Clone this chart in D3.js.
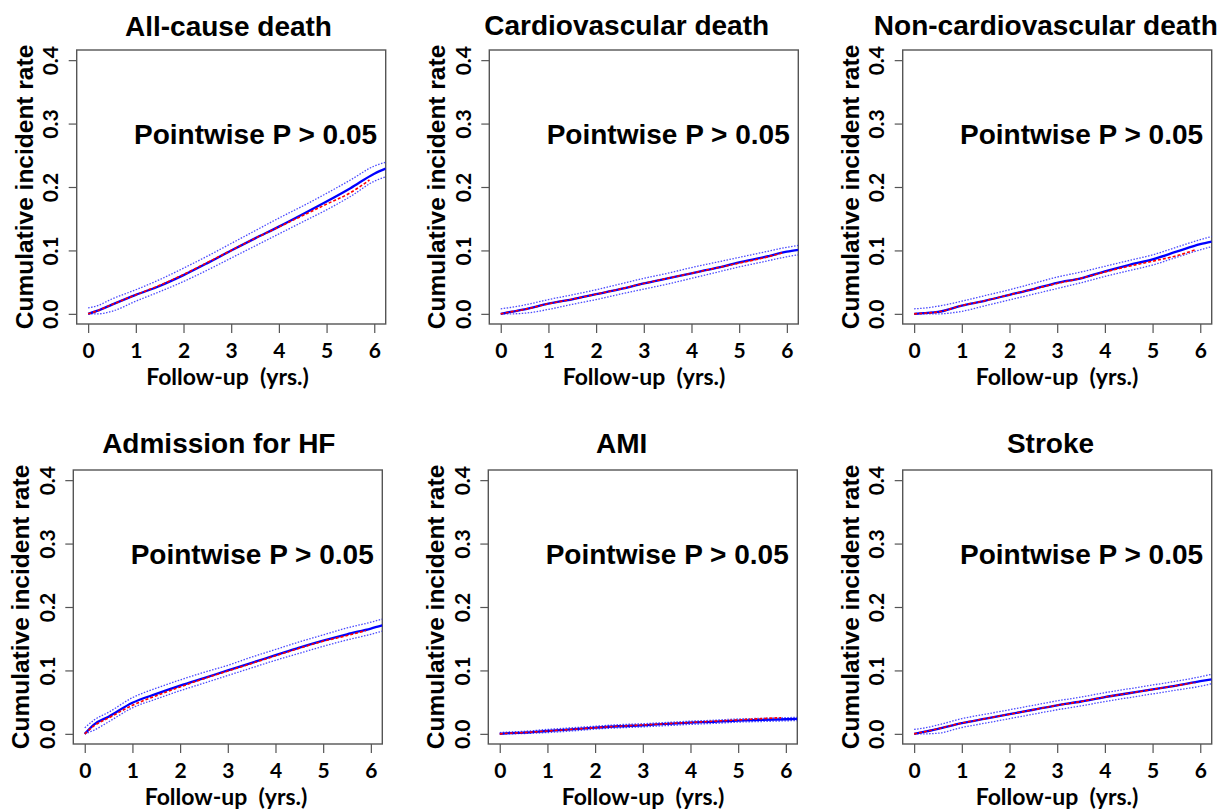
<!DOCTYPE html>
<html lang="en">
<head>
<meta charset="UTF-8">
<title>Cumulative incident rate</title>
<style>
    body { margin: 0; padding: 0; background: #fff; }
    svg { display: block; }
    .title, .note, .ylab { font-family: "Liberation Sans", Arial, sans-serif; font-weight: bold; fill: #000; }
    .title { font-size: 28px; }
    .note { font-size: 28px; }
    .ylab { font-size: 24.5px; }
    .xlab { font-family: Lato, "Open Sans", sans-serif; font-weight: bold; font-size: 23px; white-space: pre; }
    .tick text { font-family: Lato, "Open Sans", sans-serif; font-weight: bold; font-size: 21px; fill: #000; }
    .tick line { stroke: #555; stroke-width: 1.2px; }
    .box { fill: none; stroke: #555; stroke-width: 1.4px; }
    .est { fill: none; stroke: #0000ff; stroke-width: 2.3px; }
    .ref { fill: none; stroke: #ff0000; stroke-width: 1.6px; stroke-dasharray: 3,2; }
    .ci { fill: none; stroke: #2a2aff; stroke-width: 1.3px; stroke-dasharray: 1.5,1.5; opacity: 0.85; }
</style>
</head>
<body>
<div id="chart"></div>

<script src="https://d3js.org/d3.v7.min.js"></script>
<script>
    // panel titles
    const titles = ["All-cause death", "Cardiovascular death", "Non-cardiovascular death",
                    "Admission for HF", "AMI", "Stroke"];

    const xTicks = [0, 1, 2, 3, 4, 5, 6];
    const yTicks = [0, 0.1, 0.2, 0.3, 0.4];

    // follow-up times (yrs.)
    const years = [0, 0.2, 0.5, 1, 1.5, 2, 2.5, 3, 3.5, 4, 4.5, 5, 5.5, 6, 6.24];
    const refYears = [0, 0.2, 0.5, 1, 1.5, 2, 2.5, 3, 3.5, 4, 4.5, 5, 5.5, 5.9];

    // blue solid: estimate
    const estimate = [
        [0, 0.005, 0.0146, 0.030, 0.044, 0.061, 0.080, 0.0999, 0.119, 0.1375, 0.157, 0.177, 0.198, 0.221, 0.229],
        [0, 0.003, 0.007, 0.016, 0.023, 0.031, 0.039, 0.048, 0.056, 0.064, 0.072, 0.081, 0.089, 0.098, 0.101],
        [0, 0.001, 0.003, 0.013, 0.021, 0.030, 0.039, 0.049, 0.056, 0.067, 0.077, 0.086, 0.098, 0.110, 0.114],
        [0, 0.015, 0.027, 0.049, 0.063, 0.076, 0.088, 0.100, 0.112, 0.124, 0.136, 0.147, 0.157, 0.166, 0.171],
        [0, 0.001, 0.002, 0.0045, 0.007, 0.0097, 0.012, 0.0135, 0.0157, 0.0177, 0.019, 0.021, 0.022, 0.023, 0.0235],
        [0, 0.003, 0.008, 0.017, 0.024, 0.031, 0.038, 0.045, 0.051, 0.058, 0.064, 0.070, 0.076, 0.083, 0.086]
    ];

    // blue dotted: upper / lower band
    const upper = [
        [0.0094, 0.013, 0.0235, 0.038, 0.054, 0.072, 0.091, 0.111, 0.131, 0.151, 0.170, 0.190, 0.211, 0.233, 0.239],
        [0.008, 0.010, 0.014, 0.0225, 0.030, 0.038, 0.047, 0.056, 0.064, 0.073, 0.081, 0.089, 0.097, 0.105, 0.108],
        [0.008, 0.009, 0.012, 0.020, 0.029, 0.038, 0.048, 0.058, 0.066, 0.075, 0.084, 0.093, 0.105, 0.117, 0.122],
        [0.0094, 0.022, 0.034, 0.057, 0.072, 0.085, 0.097, 0.108, 0.121, 0.133, 0.145, 0.156, 0.167, 0.176, 0.181],
        [0.002, 0.003, 0.004, 0.007, 0.0095, 0.012, 0.0145, 0.016, 0.018, 0.020, 0.0215, 0.0235, 0.0245, 0.0255, 0.026],
        [0.007, 0.009, 0.014, 0.024, 0.031, 0.038, 0.045, 0.052, 0.058, 0.065, 0.071, 0.077, 0.083, 0.090, 0.094]
    ];
    const lower = [
        [0, 0, 0.004, 0.020, 0.035, 0.051, 0.069, 0.088, 0.107, 0.126, 0.145, 0.164, 0.185, 0.209, 0.216],
        [0, 0, 0.001, 0.007, 0.015, 0.0225, 0.031, 0.039, 0.047, 0.056, 0.065, 0.074, 0.082, 0.090, 0.093],
        [0, 0, 0, 0.004, 0.013, 0.022, 0.031, 0.040, 0.049, 0.059, 0.068, 0.077, 0.089, 0.101, 0.106],
        [0, 0.006, 0.019, 0.041, 0.055, 0.068, 0.080, 0.092, 0.104, 0.116, 0.127, 0.138, 0.148, 0.157, 0.162],
        [0, 0, 0.0005, 0.002, 0.0045, 0.0075, 0.0095, 0.011, 0.013, 0.015, 0.0165, 0.0185, 0.0195, 0.0205, 0.021],
        [0, 0, 0.001, 0.010, 0.017, 0.024, 0.031, 0.038, 0.044, 0.051, 0.057, 0.063, 0.069, 0.075, 0.079]
    ];

    // red dashed: reference curve
    const reference = [
        [0, 0.005, 0.0146, 0.030, 0.045, 0.062, 0.081, 0.100, 0.119, 0.137, 0.155, 0.173, 0.191, 0.211],
        [0, 0.003, 0.007, 0.016, 0.023, 0.031, 0.039, 0.048, 0.056, 0.064, 0.072, 0.080, 0.088, 0.096],
        [0, 0.001, 0.003, 0.013, 0.021, 0.030, 0.039, 0.048, 0.056, 0.066, 0.075, 0.083, 0.0915, 0.101],
        [0, 0.013, 0.025, 0.045, 0.060, 0.074, 0.087, 0.099, 0.111, 0.123, 0.135, 0.146, 0.155, 0.163],
        [0, 0.001, 0.002, 0.0045, 0.007, 0.0097, 0.012, 0.014, 0.016, 0.018, 0.020, 0.022, 0.024, 0.0255],
        [0, 0.003, 0.008, 0.017, 0.024, 0.031, 0.038, 0.045, 0.051, 0.058, 0.064, 0.070, 0.076, 0.081]
    ];

    // where each panel sits on the page
    const layout = [
        { left: 76.7,  top: 50,  tx: 228.5,  ty: 36,  lx: 227.5 },
        { left: 489.3, top: 50,  tx: 626.7,  ty: 35,  lx: 644 },
        { left: 902.7, top: 50,  tx: 1045.8, ty: 35,  lx: 1057 },
        { left: 73.3,  top: 470, tx: 218.8,  ty: 453, lx: 226 },
        { left: 488.3, top: 470, tx: 621.7,  ty: 453, lx: 643 },
        { left: 902.7, top: 470, tx: 1050.5, ty: 453, lx: 1057 }
    ];
    const boxW = 309, boxH = 274;

    const svg = d3.select("#chart").append("svg")
        .attr("width", 1219)
        .attr("height", 810);

    titles.forEach((name, i) => {
        const L = layout[i];
        const x = d3.scaleLinear().domain([-0.24, 6.24]).range([L.left, L.left + boxW]);
        const y = d3.scaleLinear().domain([-0.016, 0.416]).range([L.top + boxH, L.top]);
        const g = svg.append("g");

        g.append("clipPath").attr("id", "clip" + i)
            .append("rect")
            .attr("x", L.left).attr("y", L.top)
            .attr("width", boxW).attr("height", boxH);

        // x axis
        const xa = g.append("g")
            .attr("transform", `translate(0,${L.top + boxH})`)
            .call(d3.axisBottom(x).tickValues(xTicks).tickSize(9).tickFormat(d3.format("d")));
        xa.select(".domain").remove();
        xa.selectAll(".tick text").attr("y", 34).attr("dy", null);

        // y axis, labels turned like R's default
        const ya = g.append("g")
            .attr("transform", `translate(${L.left},0)`)
            .call(d3.axisLeft(y).tickValues(yTicks).tickSize(8).tickFormat(d3.format(".1f")));
        ya.select(".domain").remove();
        ya.selectAll(".tick text")
            .attr("x", null).attr("dy", null)
            .attr("text-anchor", "middle")
            .attr("transform", "translate(-18.4,0) rotate(-90)");

        g.append("rect").attr("class", "box")
            .attr("x", L.left).attr("y", L.top)
            .attr("width", boxW).attr("height", boxH);

        // curves
        const line = (xs) => d3.line().x((d, j) => x(xs[j])).y(d => y(d)).curve(d3.curveMonotoneX);
        const plot = g.append("g").attr("clip-path", `url(#clip${i})`);
        plot.append("path").attr("class", "ci").attr("d", line(years)(upper[i]));
        plot.append("path").attr("class", "ci").attr("d", line(years)(lower[i]));
        plot.append("path").attr("class", "est").attr("d", line(years)(estimate[i]));
        plot.append("path").attr("class", "ref").attr("d", line(refYears)(reference[i]));

        // texts
        g.append("text").attr("class", "note")
            .attr("x", x(6.06)).attr("y", y(0.268))
            .attr("text-anchor", "end")
            .text("Pointwise P > 0.05");

        g.append("text").attr("class", "title")
            .attr("x", L.tx).attr("y", L.ty)
            .attr("text-anchor", "middle")
            .text(name);

        g.append("text").attr("class", "xlab")
            .attr("x", L.lx).attr("y", L.top + boxH + 61)
            .attr("text-anchor", "middle")
            .text("Follow-up  (yrs.)");

        g.append("text").attr("class", "ylab")
            .attr("transform", `translate(${L.left - 44},${L.top + boxH / 2}) rotate(-90)`)
            .attr("text-anchor", "middle")
            .text("Cumulative incident rate");
    });
</script>
</body>
</html>
